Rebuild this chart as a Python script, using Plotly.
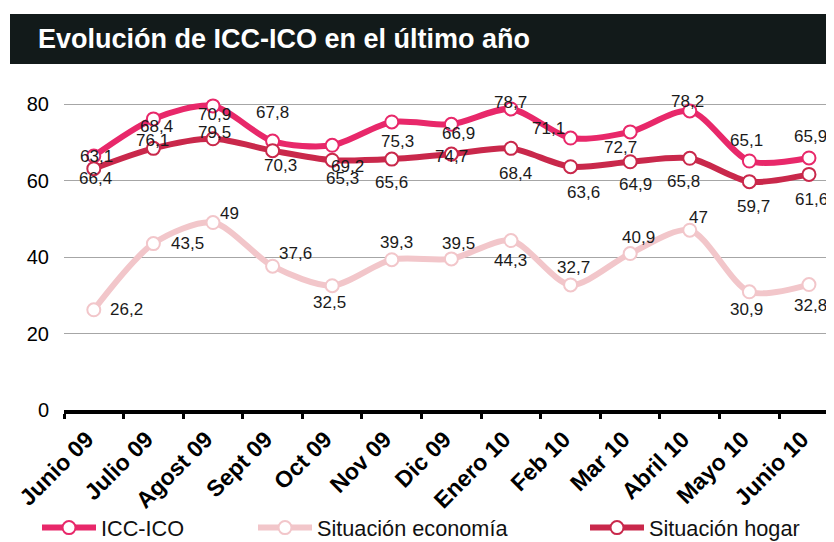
import plotly.graph_objects as go

# ---- data ----
months = ["Junio 09", "Julio 09", "Agost 09", "Sept 09", "Oct 09", "Nov 09", "Dic 09",
          "Enero 10", "Feb 10", "Mar 10", "Abril 10", "Mayo 10", "Junio 10"]
icc_ico = [66.4, 76.1, 79.5, 70.3, 69.2, 75.3, 74.7, 78.7, 71.1, 72.7, 78.2, 65.1, 65.9]
sit_economia = [26.2, 43.5, 49, 37.6, 32.5, 39.3, 39.5, 44.3, 32.7, 40.9, 47, 30.9, 32.8]
sit_hogar = [63.1, 68.4, 70.9, 67.8, 65.3, 65.6, 66.9, 68.4, 63.6, 64.9, 65.8, 59.7, 61.6]
y_ticks = [0, 20, 40, 60, 80]

# ---- label offsets (pixels) ----
icc_dx = [2, -1, 2, 8, 15, 6, 0, 0, -22, -10, -2, -3, 2]
icc_dy = [-22, -22, -27, -24, -21, -20, -32, 6, 10, -16, 9, 20, 21]
hog_dx = [3, 3, 2, 0, 10, 0, 7, 5, 13, 5, -6, 4, 3]
hog_dy = [12, 22, 24, 38, -18, -23, 21, -25, -26, -23, -23, -25, -25]
eco_dx = [33, 34, 17, 23, -3, 5, 7, 0, 3, 8, 9, -3, 2]
eco_dy = [0, 0, 9, 13, -17, 17, 15, -20, 17, 16, 13, -18, -21]

C_ICC = "#E8286A"
C_ECO = "#F2C6CA"
C_HOG = "#C9284B"
FONT = "Liberation Sans, Arial, sans-serif"

W, H = 826, 534          # page body has an 8px margin
L, T, B = 56, 72, 132
PW, PH = W - L, H - T - B

fig = go.Figure()

def add_series(name, vals, color, legend):
    fig.add_trace(go.Scatter(
        x=months, y=vals, name=name, mode="lines+markers",
        line=dict(color=color, width=6, shape="spline", smoothing=0.8),
        marker=dict(size=13, color="white", line=dict(color=color, width=2)),
        legend=legend, hoverinfo="skip",
    ))

add_series("ICC-ICO", icc_ico, C_ICC, "legend")
add_series("Situación economía", sit_economia, C_ECO, "legend2")
add_series("Situación hogar", sit_hogar, C_HOG, "legend3")

def fmt(v):
    return f"{v:g}".replace(".", ",")

annotations = []
for vals, dxs, dys in [(icc_ico, icc_dx, icc_dy), (sit_hogar, hog_dx, hog_dy),
                       (sit_economia, eco_dx, eco_dy)]:
    for m, v, dx, dy in zip(months, vals, dxs, dys):
        annotations.append(dict(
            x=m, y=v, text=fmt(v), showarrow=False, xshift=dx, yshift=dy,
            font=dict(family=FONT, size=17, color="#1a1a1a"),
        ))

leg_common = dict(orientation="h", xref="container", yref="container",
                  yanchor="middle", xanchor="left", y=1 - 520 / H,
                  font=dict(family=FONT, size=21.7, color="#111"),
                  bgcolor="rgba(0,0,0,0)", itemwidth=54)

fig.update_layout(
    width=W, height=H,
    margin=dict(l=L, r=0, t=T, b=B, autoexpand=False),
    paper_bgcolor="white", plot_bgcolor="white",
    showlegend=True,
    title=dict(text="<b>Evolución de ICC-ICO en el último año</b>",
               xref="container", yref="container", x=30 / W, xanchor="left",
               y=1 - 31 / H, yanchor="middle",
               font=dict(family=FONT, size=27, color="white")),
    shapes=[dict(type="rect", xref="paper", yref="paper",
                 x0=(2 - L) / PW, x1=1.02, y0=(T + PH - 56) / PH, y1=(T + PH - 6) / PH,
                 fillcolor="#121A1A", line=dict(width=0), layer="below")],
    xaxis=dict(
        type="category", range=[-0.5, 12.42], automargin=False,
        showline=True, linecolor="black", linewidth=3.5,
        ticks="outside", tickson="boundaries", ticklen=5, tickwidth=2.5, tickcolor="black",
        tickangle=-45, showgrid=False, ticklabelshift=-7, ticklabelstandoff=3,
        tickfont=dict(family=FONT, size=23, color="black", weight="bold"),
    ),
    yaxis=dict(
        range=[0, PH / 3.825], tickvals=y_ticks, automargin=False,
        showgrid=True, gridcolor="#A6A6A6", gridwidth=1,
        zeroline=False, showline=False, ticks="", ticklabelstandoff=14,
        tickfont=dict(family=FONT, size=20, color="black"),
    ),
    annotations=annotations,
    legend=dict(x=29 / W, **leg_common),
    legend2=dict(x=245 / W, **leg_common),
    legend3=dict(x=577 / W, **leg_common),
)

fig.write_html("out.html")
